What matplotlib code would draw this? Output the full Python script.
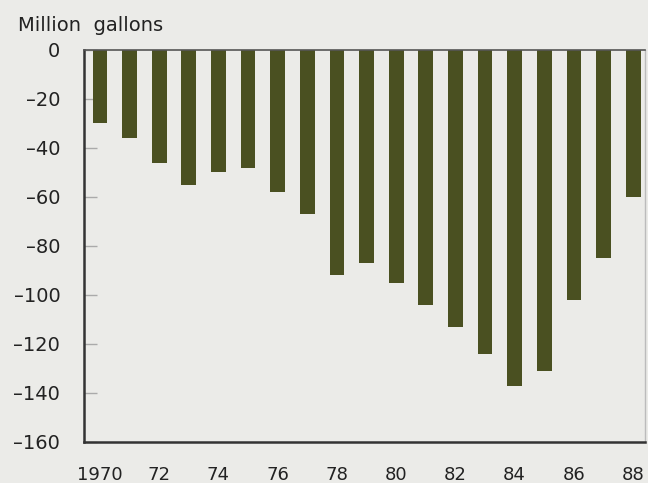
import numpy as np
import matplotlib.pyplot as plt

years = np.arange(1970, 1989)
values = [-30, -36, -46, -55, -50, -48, -58, -67, -92, -87, -95, -104, -113, -124, -137, -131, -102, -85, -60]
tick_years = [1970, 1972, 1974, 1976, 1978, 1980, 1982, 1984, 1986, 1988]
tick_labels = ['1970', '72', '74', '76', '78', '80', '82', '84', '86', '88']
y_ticks = [0, -20, -40, -60, -80, -100, -120, -140, -160]

plt.rcParams['font.family'] = ['DejaVu Sans']
bg = '#ebebe8'

fig = plt.figure(figsize=(6.48, 4.83), dpi=100, facecolor=bg)
ax = fig.add_axes([0.1296, 0.0849, 0.8658, 0.8116], facecolor=bg)

ax.bar(years, values, width=0.5, color='#4a5021', edgecolor='none', zorder=2)

ax.set_xlim(1969.46, 1988.4)
ax.set_ylim(-160, 0)
ax.set_xticks(tick_years)
ax.set_xticklabels(tick_labels)
ax.set_yticks(y_ticks)
# en dash for the long minus of the original
ax.set_yticklabels([str(v).replace('-', '\u2013') for v in y_ticks])

ax.tick_params(axis='x', length=0, pad=17, labelsize=13, colors='#222222')
ax.tick_params(axis='y', direction='in', length=9.5, width=1, color='#aaaaaa',
               pad=17, labelsize=14, labelcolor='#222222')

for s in ['left', 'bottom']:
    ax.spines[s].set_color('#333333')
    ax.spines[s].set_linewidth(1.8)
ax.spines['top'].set_color('#555555')
ax.spines['top'].set_linewidth(1.2)
ax.spines['right'].set_color('#bbbbbb')
ax.spines['right'].set_linewidth(1)

fig.text(0.028, 0.948, 'Million  gallons', fontsize=14, color='#222222', va='center')

fig.savefig('out.png', dpi=100, facecolor=bg)
